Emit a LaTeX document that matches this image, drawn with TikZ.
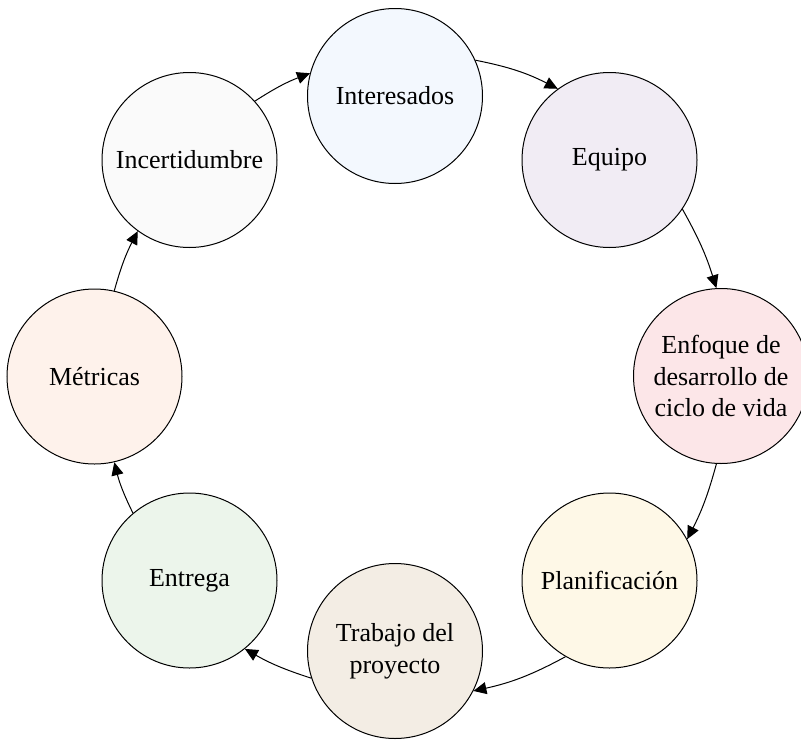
\documentclass[tikz,border=0pt]{standalone}
\usepackage{fontspec}
\setmainfont{Liberation Serif}
\usetikzlibrary{arrows.meta}
\definecolor{cInt}{HTML}{F3F8FE}
\definecolor{cEqu}{HTML}{F1ECF4}
\definecolor{cEnf}{HTML}{FCE6E8}
\definecolor{cPla}{HTML}{FEF8E7}
\definecolor{cTra}{HTML}{F3EDE4}
\definecolor{cEnt}{HTML}{ECF5EB}
\definecolor{cMet}{HTML}{FEF2EB}
\definecolor{cInc}{HTML}{FAFAFA}
\tikzset{
  stage/.style={circle, draw=black, line width=1pt, minimum size=175pt,
    inner sep=0pt, align=center, font=\fontsize{26}{31.7}\selectfont},
  flow/.style={line width=1pt, -{Triangle[length=13pt,width=12pt]}},
}
\begin{document}
\begin{tikzpicture}[x=1pt,y=1pt]
\useasboundingbox (0,0) rectangle (801,-742);
% stages of the cycle
\node[stage, fill=cInt] (int) at (395,-96)    {Interesados};
\node[stage, fill=cEqu] (equ) at (609.5,-160) {Equipo};
\node[stage, fill=cEnf] (enf) at (721,-376)   {Enfoque de\\desarrollo de\\ciclo de vida};
\node[stage, fill=cPla] (pla) at (609.5,-580.5) {Planificación};
\node[stage, fill=cTra] (tra) at (395,-651)   {Trabajo del\\proyecto};
\node[stage, fill=cEnt] (ent) at (189.5,-580.5) {Entrega};
\node[stage, fill=cMet] (met) at (94.5,-376.5) {Métricas};
\node[stage, fill=cInc] (inc) at (189.5,-160) {Incertidumbre};
% clockwise connectors
\draw[flow] (inc.42)  to[bend left=6] (int.165);
\draw[flow] (int.24)  to[bend left=8] (equ.126);
\draw[flow] (equ.-34) to[bend left=6] (enf.93);
\draw[flow] (enf.-93) to[bend left=6] (pla.28);
\draw[flow] (pla.-120) to[bend left=8] (tra.-27);
\draw[flow] (tra.198) to[bend left=6] (ent.-51);
\draw[flow] (ent.130) to[bend left=6] (met.-77);
\draw[flow] (met.77)  to[bend left=6] (inc.-126);
\end{tikzpicture}
\end{document}
